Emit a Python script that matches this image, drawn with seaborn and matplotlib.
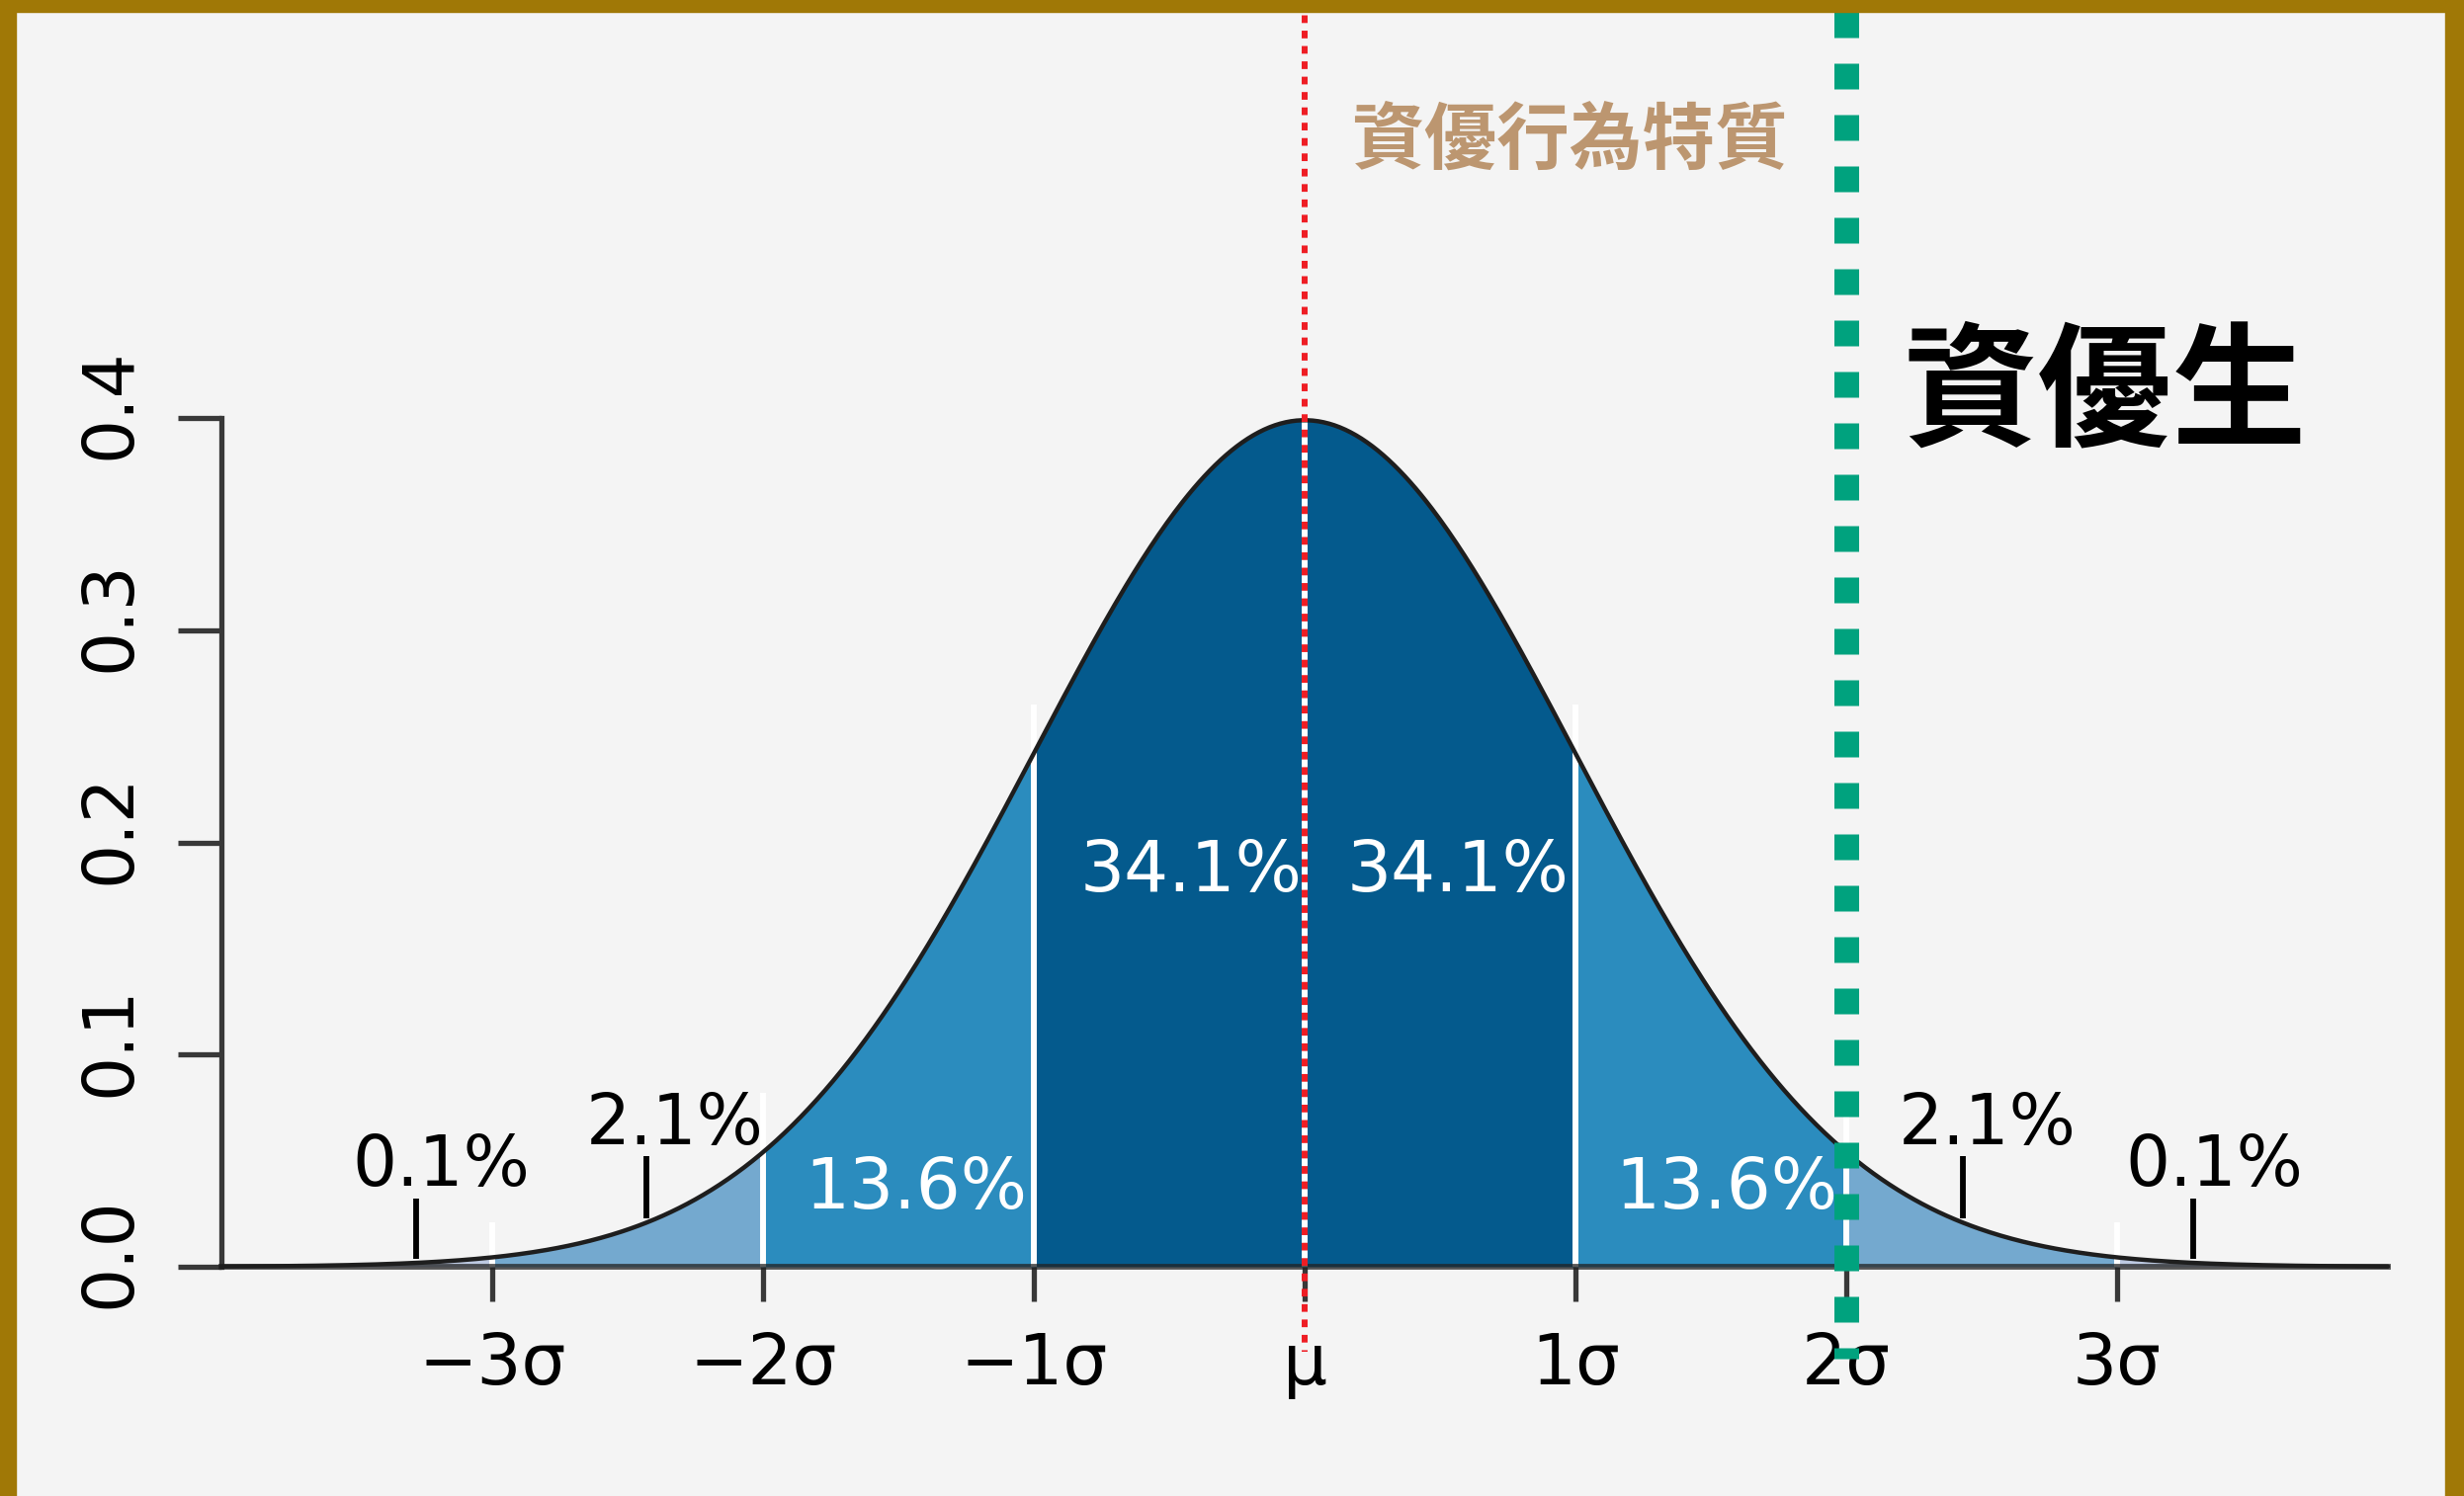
import numpy as np
import matplotlib
matplotlib.use("Agg")
import matplotlib.pyplot as plt
import matplotlib.transforms as mtransforms
import seaborn as sns
from matplotlib.patches import Rectangle

# Chart data
band_edges = [-4, -3, -2, -1, 0, 1, 2, 3, 4]
band_colors = ["#BDC9E1", "#74A9CF", "#2B8CBE", "#045A8D",
               "#045A8D", "#2B8CBE", "#74A9CF", "#BDC9E1"]
sigma_ticks = [-3, -2, -1, 0, 1, 2, 3]
sigma_labels = ["\u22123\u03c3", "\u22122\u03c3", "\u22121\u03c3", "\u03bc", "1\u03c3", "2\u03c3", "3\u03c3"]
density_ticks = [0.0, 0.1, 0.2, 0.3, 0.4]
density_labels = ["0.0", "0.1", "0.2", "0.3", "0.4"]

sep_x = [-3, -2, -1, 0, 1, 2, 3]
sep_top = [0.021, 0.082, 0.265, 0.399, 0.265, 0.082, 0.021]

pointer_x = [-3.28, -2.43, 2.43, 3.28]
pointer_top = [0.032, 0.052, 0.052, 0.032]

pct_text = ["0.1%", "2.1%", "13.6%", "34.1%", "34.1%", "13.6%", "2.1%", "0.1%"]
pct_x = [-3.19, -2.325, -1.434, -0.42, 0.566, 1.556, 2.52, 3.36]
pct_y = [0.0382, 0.0577, 0.0275, 0.177, 0.177, 0.0275, 0.0577, 0.0382]
pct_color = ["black", "black", "white", "white", "white", "white", "black", "black"]

gifted_x = 2.0       # threshold line
mean_x = 0.0

def npdf(x):
    return np.exp(-0.5 * np.asarray(x) ** 2) / np.sqrt(2 * np.pi)

xs = np.linspace(-4, 4, 801)
dens = npdf(xs)

sns.set_theme(style="white")
plt.rcParams["font.family"] = ["DejaVu Sans", "Noto Sans CJK TC"]

bg = "#F4F4F4"
fig = plt.figure(figsize=(24.93, 15.14), dpi=100, facecolor=bg)
ax = fig.add_axes([0, 0, 1, 1], facecolor=bg)
ax.set_xlim(-4.8175, 4.281)
ax.set_ylim(-0.10803, 0.59697)

# coloured bands under the curve
for i in range(len(band_edges) - 1):
    m = (xs >= band_edges[i]) & (xs <= band_edges[i + 1])
    ax.fill_between(xs[m], 0, dens[m], color=band_colors[i], lw=0, zorder=1)

# white separators
ax.vlines(sep_x, 0, sep_top, color="white", lw=4.3, zorder=1.5)

# curve
sns.lineplot(x=xs, y=dens, ax=ax, color="#1E1E1E", lw=3.2, zorder=3)

# pointer lines for the tail labels
ax.vlines(pointer_x, npdf(pointer_x) + 0.002, pointer_top, color="black", lw=4.2, zorder=3)

for t, x, y, c in zip(pct_text, pct_x, pct_y, pct_color):
    ax.text(x, y, t, color=c, fontsize=51, ha="center", va="baseline", zorder=4)

# axes
for s in ["top", "right"]:
    ax.spines[s].set_visible(False)
ax.spines["left"].set_position(("data", -4))
ax.spines["left"].set_bounds(0, 0.4)
ax.spines["left"].set_color("#383838")
ax.spines["left"].set_linewidth(3.8)
ax.spines["bottom"].set_position(("data", 0))
ax.spines["bottom"].set_bounds(-4, 4)
ax.spines["bottom"].set_color("#222222")
ax.spines["bottom"].set_linewidth(4.2)
ax.spines["bottom"].set_alpha(0.75)
ax.spines["bottom"].set_zorder(2.5)

ax.set_xticks(sigma_ticks, labels=sigma_labels)
ax.set_yticks(density_ticks, labels=density_labels)
ax.tick_params(axis="x", direction="out", length=25, width=3.8, color="#383838",
               pad=22, labelsize=51, labelcolor="black", bottom=True)
ax.tick_params(axis="y", direction="out", length=32, width=3.8, color="#383838",
               pad=24, labelsize=51, labelcolor="black", left=True)
shift_up = mtransforms.ScaledTranslation(0, 10 / 72, fig.dpi_scale_trans)
for lab in ax.get_yticklabels():
    lab.set_rotation(90)
    lab.set_va("center")
    lab.set_rotation_mode("default")
    lab.set_transform(lab.get_transform() + shift_up)

# mean (red dotted) and gifted threshold (green dotted)
ax.plot([mean_x, mean_x], [0.597, -0.040], color="#EE1D24", lw=4.3,
        dashes=(1.3, 1.3), solid_capstyle="butt", dash_capstyle="butt", zorder=5)
ax.plot([gifted_x, gifted_x], [0.5914, -0.0433], color="#00A27E", lw=18,
        dashes=(1.04, 1.04), dash_capstyle="butt", zorder=6)

ax.text(0.978, 0.530, "資優行為特質", color="#BC9670", fontsize=53,
        fontweight="bold", family=["Noto Sans CJK TC"], ha="center", va="center", zorder=7)
ax.text(2.956, 0.4105, "資優生", color="black", fontsize=98,
        fontweight="black", family=["Noto Sans CJK TC"], ha="center", va="center", zorder=7)

# frame (top, left, right)
border = "#A07806"
fig.patches.append(Rectangle((0, 1 - 12 / 1514), 1, 12 / 1514, transform=fig.transFigure,
                             color=border, zorder=10))
fig.patches.append(Rectangle((0, 0), 16 / 2493, 1, transform=fig.transFigure,
                             color=border, zorder=10))
fig.patches.append(Rectangle((1 - 19 / 2493, 0), 19 / 2493, 1, transform=fig.transFigure,
                             color=border, zorder=10))

fig.savefig("out.png", dpi=100, facecolor=bg)
